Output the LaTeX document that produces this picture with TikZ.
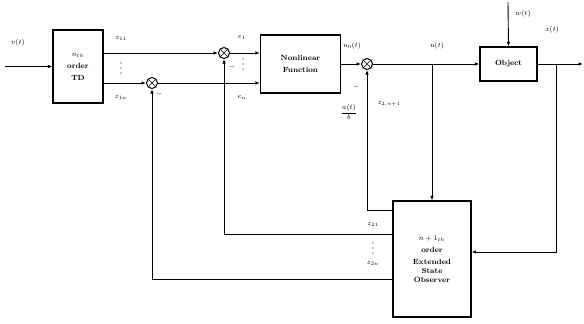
\documentclass[tikz,border=0pt]{standalone}
\usetikzlibrary{arrows.meta}
\begin{document}
\begin{tikzpicture}[x=1pt,y=-1pt,
  every node/.style={font=\fontsize{7}{8}\selectfont},
  blk/.style={draw,line width=1.1pt,inner sep=0pt,align=center,font=\fontsize{7.5}{9}\selectfont\bfseries},
  sumc/.style={draw,line width=1pt,circle,minimum size=11pt,inner sep=0pt},
  lbl/.style={inner sep=1pt,font=\fontsize{7}{8}\selectfont},
  ln/.style={line width=0.9pt},
  arr/.style={line width=0.9pt,-{Latex[length=4.5pt,width=3.5pt]}},
  dotc/.style={fill,circle,inner sep=0pt,minimum size=1.3pt}]
\useasboundingbox (0,0) rectangle (584,324);
% blocks
\node[blk,minimum width=50pt,minimum height=73pt] (td) at (78,66.5) {$n_{th}$\\[3pt]order\\[3pt]TD};
\node[blk,minimum width=80pt,minimum height=58pt] (nf) at (300.5,64) {Nonlinear\\[3pt]Function};
\node[blk,minimum width=57pt,minimum height=34pt] (obj) at (508.5,64) {Object};
\node[blk,minimum width=78pt,minimum height=116pt] (eso) at (432,259) {$n+1_{th}$\\[3pt]order\\[3pt]Extended\\State\\Observer};
% summing junctions
\node[sumc] (s1) at (152,83) {};
\node[sumc] (s2) at (224,53) {};
\node[sumc] (s3) at (367,64) {};
\foreach \s in {s1,s2,s3}{
  \draw[line width=0.5pt] (\s.45) -- (\s.225) (\s.135) -- (\s.315);}
% coordinates
\coordinate (vin) at (5,66.5);
\coordinate (uo) at (432,64);
\coordinate (xo) at (556,64);
\coordinate (xend) at (583,64);
\coordinate (wt) at (508,2);
% signal paths
\draw[arr] (vin) -- (td.west);
\draw[arr] (td.east |- s2) -- (s2);
\draw[arr] (s2) -- (nf.west |- s2);
\draw[arr] (td.east |- s1) -- (s1);
\draw[arr] (s1) -- (nf.west |- s1);
\draw[arr] (nf.east) -- (s3);
\draw[arr] (s3) -- (obj.west);
\draw[arr] (uo) -- (uo |- eso.north);
\draw[arr] (obj.east) -- (xend);
\draw[arr] (wt) -- (obj.north);
\draw[arr] (xo) |- (eso.east |- 0,252);
\draw[arr] (eso.west |- 0,210) -| (s3);
\draw[arr] (eso.west |- 0,234) -| (s2);
\draw[arr] (eso.west |- 0,279) -| (s1);
% vertical dots
\foreach \x/\y in {121/68, 243/64, 373/248}{
  \node[dotc] at (\x,\y-5) {};
  \node[dotc] at (\x,\y) {};
  \node[dotc] at (\x,\y+5) {};}
% labels
\node[lbl] (lv) at (18,43) {$v(t)$};
\node[lbl] (lz11) at (121,38) {$z_{11}$};
\node[lbl] (lz1n) at (121,97) {$z_{1n}$};
\node[lbl] (le1) at (242,37) {$e_1$};
\node[lbl] (len) at (242,97) {$e_n$};
\node[lbl] (lm1) at (159,94) {$-$};
\node[lbl] (lm2) at (232,67) {$-$};
\node[lbl] (lm3) at (356,87) {$-$};
\node[lbl] (lu0) at (352,46) {$u_0(t)$};
\node[lbl] (lfr) at (349,112) {$\displaystyle\frac{a(t)}{b}$};
\node[lbl] (lzn1) at (389,104) {$z_{2,n+1}$};
\node[lbl] (lu) at (437,46) {$u(t)$};
\node[lbl] (lw) at (523,14) {$w(t)$};
\node[lbl] (lx) at (552,30) {$x(t)$};
\node[lbl] (lz21) at (373,224) {$z_{21}$};
\node[lbl] (lz2n) at (373,263) {$z_{2n}$};
\end{tikzpicture}
\end{document}
